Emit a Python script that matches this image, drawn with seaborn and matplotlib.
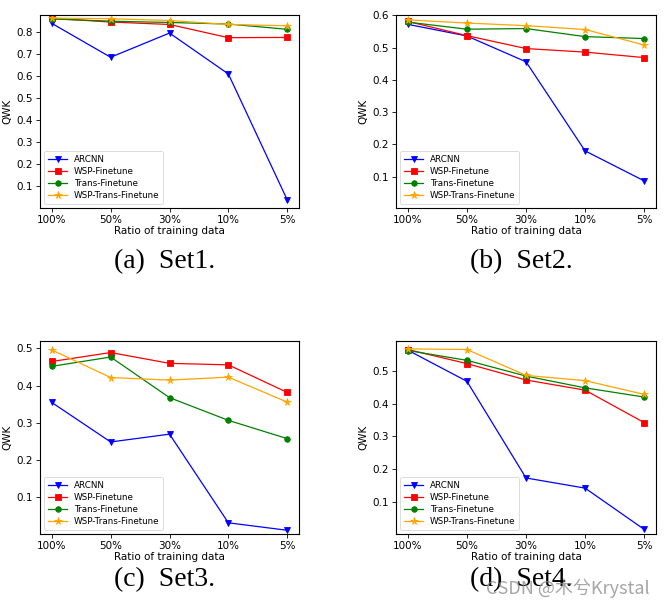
import matplotlib
matplotlib.use("Agg")
import matplotlib.pyplot as plt
from matplotlib.ticker import MultipleLocator
import seaborn as sns
import pandas as pd

ratios = ["100%", "50%", "30%", "10%", "5%"]
methods = ["ARCNN", "WSP-Finetune", "Trans-Finetune", "WSP-Trans-Finetune"]
colors = ["blue", "red", "green", "orange"]
markers = ["v", "s", "o", "*"]

set1_arcnn = [0.841, 0.687, 0.797, 0.611, 0.039]
set1_wsp = [0.864, 0.847, 0.836, 0.776, 0.777]
set1_trans = [0.861, 0.851, 0.845, 0.838, 0.814]
set1_wsptrans = [0.865, 0.862, 0.854, 0.836, 0.830]

set2_arcnn = [0.572, 0.536, 0.456, 0.180, 0.087]
set2_wsp = [0.581, 0.537, 0.497, 0.486, 0.469]
set2_trans = [0.579, 0.557, 0.559, 0.534, 0.528]
set2_wsptrans = [0.586, 0.576, 0.568, 0.556, 0.508]

set3_arcnn = [0.355, 0.249, 0.270, 0.032, 0.012]
set3_wsp = [0.465, 0.489, 0.460, 0.456, 0.382]
set3_trans = [0.452, 0.477, 0.368, 0.307, 0.258]
set3_wsptrans = [0.496, 0.422, 0.415, 0.423, 0.356]

set4_arcnn = [0.563, 0.468, 0.173, 0.142, 0.016]
set4_wsp = [0.565, 0.522, 0.472, 0.441, 0.342]
set4_trans = [0.562, 0.532, 0.484, 0.448, 0.420]
set4_wsptrans = [0.567, 0.565, 0.486, 0.470, 0.428]

captions = ["(a)  Set1.", "(b)  Set2.", "(c)  Set3.", "(d)  Set4."]
ylims = [(0.002, 0.879), (0.003, 0.601), (0.002, 0.520), (0.002, 0.591)]

sets = [
    [set1_arcnn, set1_wsp, set1_trans, set1_wsptrans],
    [set2_arcnn, set2_wsp, set2_trans, set2_wsptrans],
    [set3_arcnn, set3_wsp, set3_trans, set3_wsptrans],
    [set4_arcnn, set4_wsp, set4_trans, set4_wsptrans],
]

W, H = 668, 607
fig = plt.figure(figsize=(W / 100, H / 100), dpi=100)

# axes boxes in pixels: left, top, right, bottom
boxes = [(40, 15, 299, 208), (396, 15, 656, 208),
         (40, 341, 299, 534), (396, 341, 656, 534)]
caption_pos = [(165, 262), (521, 262), (165, 580), (521, 580)]


def style_line(line):
    c = line.get_color()
    line.set_markeredgecolor(c)
    line.set_markerfacecolor(c)
    line.set_markeredgewidth(0.6)
    if line.get_marker() == "*":
        line.set_markersize(5.5)
    else:
        line.set_markersize(4)


for i, (vals, box) in enumerate(zip(sets, boxes)):
    l, t, r, b = box
    ax = fig.add_axes([l / W, 1 - b / H, (r - l) / W, (b - t) / H])
    rows = []
    for m, series in zip(methods, vals):
        for x, v in zip(ratios, series):
            rows.append({"ratio": x, "QWK": v, "method": m})
    df = pd.DataFrame(rows)
    sns.lineplot(data=df, x="ratio", y="QWK", hue="method", style="method",
                 hue_order=methods, style_order=methods,
                 palette=dict(zip(methods, colors)),
                 markers=dict(zip(methods, markers)), dashes=False,
                 sort=False, estimator=None, ax=ax, linewidth=0.9)
    for line in ax.lines:
        style_line(line)
    ax.set_ylim(*ylims[i])
    ax.yaxis.set_major_locator(MultipleLocator(0.1))
    ax.set_xlabel("Ratio of training data", fontsize=7.5, labelpad=1)
    ax.set_ylabel("QWK", fontsize=7.5, labelpad=3)
    ax.tick_params(labelsize=7.5, length=3, width=0.6, pad=2)
    for s in ax.spines.values():
        s.set_linewidth(0.8)
    leg = ax.legend(loc="lower left", fontsize=6.3, title=None,
                    handlelength=2.2, borderpad=0.4, labelspacing=0.35,
                    framealpha=0.8)
    leg.get_frame().set_linewidth(0.6)
    for h in leg.legend_handles:
        style_line(h)
    cx, cy = caption_pos[i]
    fig.text(cx / W, 1 - cy / H, captions[i], ha="center", va="center",
             family="Liberation Serif", fontsize=20)

fig.text(568 / W, 1 - 588 / H, "CSDN @木兮Krystal", ha="center", va="center",
         family=["Noto Sans CJK SC", "DejaVu Sans"], fontsize=13,
         color="#888888", alpha=0.75)

fig.savefig("out.png", dpi=100)
